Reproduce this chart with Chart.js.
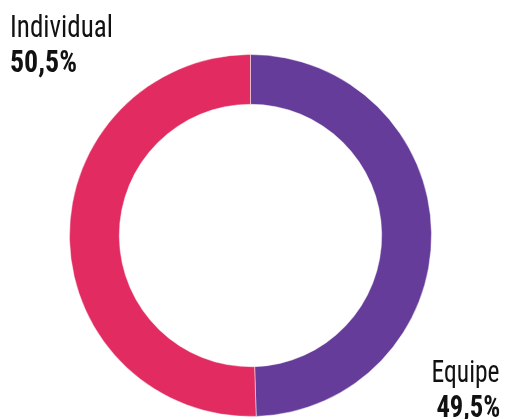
<!DOCTYPE html>
<html>
<head>
<meta charset="utf-8">
<script src="https://cdn.jsdelivr.net/npm/chart.js@4"></script>
<style>
  html, body { margin: 0; padding: 0; background: #ffffff; }
  #wrap { position: relative; width: 505px; height: 419px; overflow: hidden; }
  canvas { position: absolute; left: 0; top: 0; }
  .lbl { position: absolute; font-family: "Roboto Condensed", "Liberation Sans Narrow", Roboto, sans-serif; font-size: 31px; line-height: 31px; color: #111111; white-space: nowrap; }
  .b { font-weight: bold; }
  .l { left: 10px; transform-origin: left top; }
  .r { right: 5px; transform-origin: right top; }
</style>
</head>
<body>
<div id="wrap">
  <canvas id="c" width="505" height="419"></canvas>
  <div class="lbl l" id="l1"></div>
  <div class="lbl l b" id="l2"></div>
  <div class="lbl r" id="l3"></div>
  <div class="lbl r b" id="l4"></div>
</div>
<script>
const categories = ["Equipe", "Individual"];
const values = [49.5, 50.5];
const valueLabels = ["49,5%", "50,5%"];
const colors = ["#653c9a", "#e22b61"];

document.getElementById('l1').textContent = categories[1];
document.getElementById('l2').textContent = valueLabels[1];
document.getElementById('l3').textContent = categories[0];
document.getElementById('l4').textContent = valueLabels[0];

// condense text if no condensed font available
function fit(id, top, targetW) {
  const el = document.getElementById(id);
  el.style.top = top + 'px';
  const w = el.getBoundingClientRect().width;
  const s = targetW / w;
  el.style.transform = 'scaleX(' + s + ')';
}
fit('l1', 11, 103);
fit('l2', 46, 67);
fit('l3', 356, 68);
fit('l4', 391, 64);

new Chart(document.getElementById('c'), {
  type: 'doughnut',
  data: {
    labels: categories,
    datasets: [{
      data: values,
      backgroundColor: colors,
      borderColor: 'rgba(255,255,255,0.45)',
      borderWidth: 1
    }]
  },
  options: {
    responsive: false,
    animation: false,
    cutout: '72.5%',
    layout: { padding: { top: 54, bottom: 2, left: 69, right: 73 } },
    plugins: { legend: { display: false }, tooltip: { enabled: false } }
  }
});
</script>
</body>
</html>
